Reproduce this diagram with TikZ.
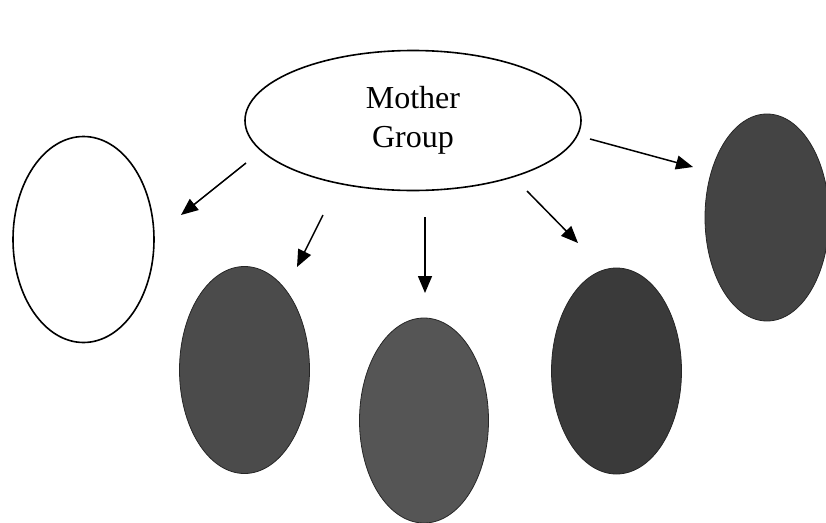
\documentclass[tikz,border=0pt]{standalone}
\usepackage{fontspec}
\setmainfont{Liberation Serif}
\usetikzlibrary{shapes.geometric,arrows.meta}
\definecolor{gA}{HTML}{4B4B4B}
\definecolor{gB}{HTML}{555555}
\definecolor{gC}{HTML}{3A3A3A}
\definecolor{gD}{HTML}{444444}
\begin{document}
\begin{tikzpicture}[x=1pt,y=-1pt,
  oval/.style={ellipse, inner sep=0pt, line width=1.6pt},
  darkoval/.style={ellipse, inner sep=0pt, line width=0.8pt, draw=black!85},
  arr/.style={line width=1.5pt, -{Triangle[length=17pt,width=14pt]}}]
\useasboundingbox (0,0) rectangle (826,522);
\node[oval, draw, fill=white, minimum width=336pt, minimum height=140pt,
  font=\fontsize{32}{39}\selectfont, align=center] (mother) at (413,120.5) {Mother\\Group};
\node[oval, draw, fill=white, minimum width=141pt, minimum height=206pt] (c1) at (83.5,239.5) {};
\node[darkoval, fill=gA, minimum width=130pt, minimum height=207pt] (c2) at (244.5,370) {};
\node[darkoval, fill=gB, minimum width=129pt, minimum height=205pt] (c3) at (424,420.5) {};
\node[darkoval, fill=gC, minimum width=130pt, minimum height=206pt] (c4) at (616.5,371) {};
\node[darkoval, fill=gD, minimum width=124pt, minimum height=207pt] (c5) at (767,217.5) {};
\coordinate (s1) at (246,163); \coordinate (t1) at (181,215);
\coordinate (s2) at (323,215); \coordinate (t2) at (297,267);
\coordinate (s3) at (425,217); \coordinate (t3) at (425,293);
\coordinate (s4) at (527,191); \coordinate (t4) at (578,243);
\coordinate (s5) at (590,139); \coordinate (t5) at (693,167);
\draw[arr] (s1) -- (t1);
\draw[arr] (s2) -- (t2);
\draw[arr] (s3) -- (t3);
\draw[arr] (s4) -- (t4);
\draw[arr] (s5) -- (t5);
\end{tikzpicture}
\end{document}
